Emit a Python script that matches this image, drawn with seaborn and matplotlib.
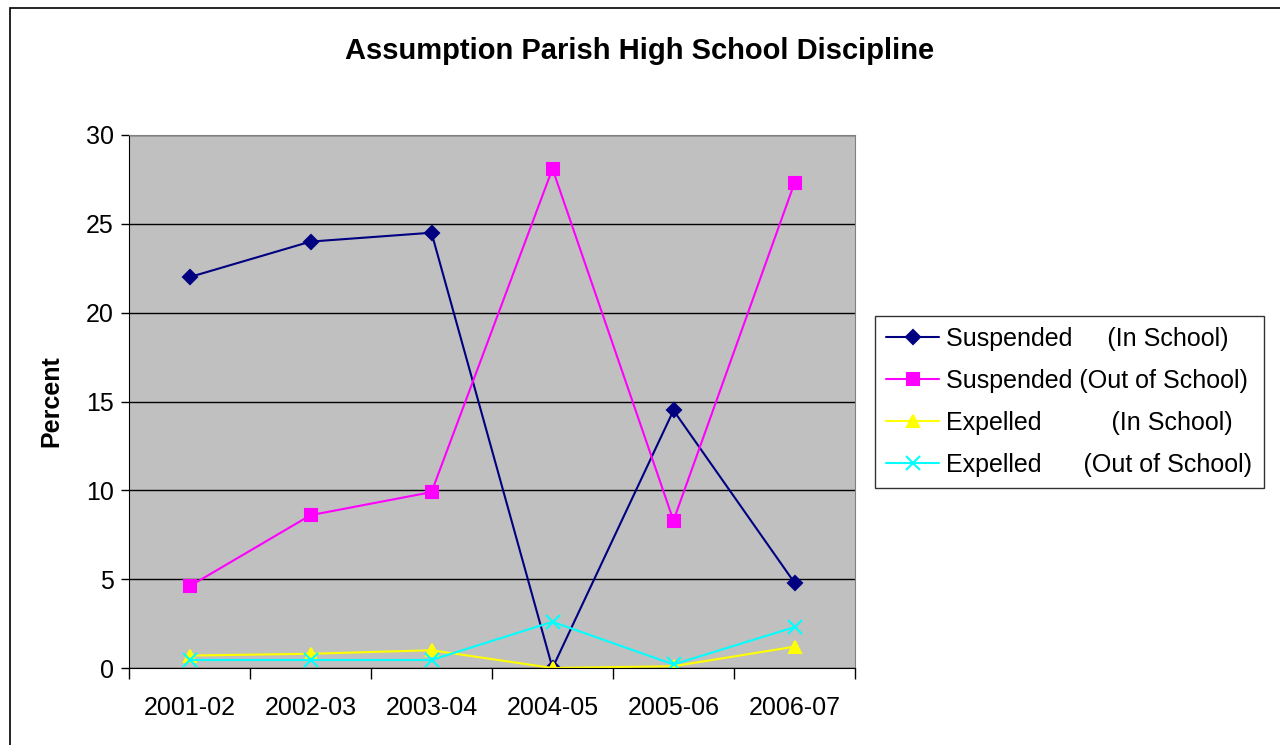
import pandas as pd
import numpy as np
import matplotlib
matplotlib.use("Agg")
import matplotlib.pyplot as plt
import seaborn as sns
from matplotlib.patches import Rectangle

# school years and percent values
years = ["2001-02", "2002-03", "2003-04", "2004-05", "2005-06", "2006-07"]
susp_in = [22.0, 24.0, 24.5, 0.0, 14.5, 4.8]
susp_out = [4.6, 8.6, 9.9, 28.1, 8.3, 27.3]
exp_in = [0.7, 0.8, 1.0, 0.0, 0.1, 1.2]
exp_out = [0.45, 0.45, 0.45, 2.6, 0.2, 2.3]

labels = ["Suspended     (In School)",
          "Suspended (Out of School)",
          "Expelled          (In School)",
          "Expelled      (Out of School)"]
colors = ["#000080", "#FF00FF", "#FFFF00", "#00FFFF"]
marks = ["D", "s", "^", "x"]
sizes = [7, 8, 9, 10]

sns.set_style("white")
plt.rcParams["font.family"] = ["Liberation Sans", "DejaVu Sans"]
plt.rcParams["text.color"] = "black"
plt.rcParams["axes.labelcolor"] = "black"
plt.rcParams["xtick.color"] = "black"
plt.rcParams["ytick.color"] = "black"

fig = plt.figure(figsize=(12.8, 7.45), dpi=100)
ax = fig.add_axes([129/1280, 1-668/745, (855-129)/1280, (668-135)/745])

for vals, lab, c, m, ms in zip([susp_in, susp_out, exp_in, exp_out], labels, colors, marks, sizes):
    d = pd.DataFrame({"Year": years, "Percent": vals})
    sns.lineplot(data=d, x="Year", y="Percent", color=c, marker=m, markersize=ms,
                 markeredgecolor=c, markeredgewidth=1.5, linewidth=1.5,
                 label=lab, ax=ax)

ax.set_facecolor("#C0C0C0")
ax.set_xlim(-0.5, 5.5)
ax.set_ylim(0, 30)
ax.set_yticks(range(0, 31, 5))
ax.yaxis.grid(True, color="black", linewidth=1)
ax.set_axisbelow(True)
for s in ["top", "right"]:
    ax.spines[s].set_color("#808080")
for s in ["left", "bottom"]:
    ax.spines[s].set_color("black")
ax.set_xticks(range(len(years)))
ax.set_xticklabels(years)
ax.set_xticks(np.arange(-0.5, 6, 1), minor=True)
ax.tick_params(axis="x", which="major", length=0, pad=20, labelsize=18)
ax.tick_params(axis="x", which="minor", length=8, width=1, direction="out", bottom=True)
ax.tick_params(axis="y", length=6, width=1, direction="out", left=True, labelsize=18, pad=5)
ax.set_xlabel("")
ax.set_ylabel("Percent", fontsize=18, fontweight="bold", labelpad=16)

fig.suptitle("Assumption Parish High School Discipline", fontsize=21,
             fontweight="bold", y=0.95)

leg = ax.legend(loc="center left", bbox_to_anchor=(875/1280, 1-402/745),
                bbox_transform=fig.transFigure, fontsize=18, frameon=True,
                fancybox=False, edgecolor="black", handlelength=2.1,
                borderpad=0.45, labelspacing=0.72, handletextpad=0.3,
                borderaxespad=0)
leg.get_frame().set_linewidth(1)

fig.patches.append(Rectangle((10/1280, -0.5), 1.5, 1.5 - 8/745,
                             transform=fig.transFigure, fill=False,
                             edgecolor="black", linewidth=1.2))

fig.savefig("out.png", dpi=100)
